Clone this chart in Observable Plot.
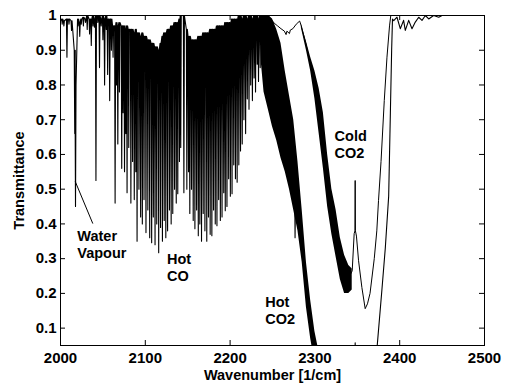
<!DOCTYPE html>
<html>
<head>
<meta charset="utf-8">
<script src="https://cdn.jsdelivr.net/npm/d3@7"></script>
<script src="https://cdn.jsdelivr.net/npm/@observablehq/plot@0.6"></script>
<style>
  html, body { margin: 0; padding: 0; background: #fff; }
</style>
</head>
<body>
<div id="chart"></div>
<script>
// ---- axis ticks ----
const xTicks = [2000, 2100, 2200, 2300, 2400, 2500];
const yTicks = [0.1, 0.2, 0.3, 0.4, 0.5, 0.6, 0.7, 0.8, 0.9, 1];

// ---- hot spectrum: individual absorption lines (centre, minimum, local top) ----
const hotHeadW = [2000];
const hotHeadT = [0.985];
const lineW = [
  2002, 2004, 2007.6, 2010, 2013, 2016.8, 2017.7, 2020.7, 2022.7, 2024.5,
  2027, 2029.5, 2031.5, 2034.3, 2036.3, 2038.3, 2040, 2041.8, 2044, 2046,
  2048, 2050, 2052, 2054, 2055.6, 2058, 2060, 2062, 2064.4, 2066,
  2067.6, 2069.5, 2072.2, 2073.8, 2075.5, 2077, 2078.5, 2080.5, 2083, 2085,
  2087, 2088.8, 2090.3, 2092.5, 2094.5, 2096.5, 2098.5, 2100.8, 2103, 2105.2,
  2107.5, 2109.5, 2111.5, 2113.5, 2115.8, 2118, 2120.2, 2122.3, 2124.2, 2126.3,
  2128.5, 2130.5, 2132.4, 2134.5, 2136.5, 2138.3, 2140.3, 2141.8, 2145.5, 2149,
  2151, 2152.5, 2154.5, 2156.5, 2158.5, 2160.5, 2162.5, 2164.3, 2166.3, 2168.3,
  2170.3, 2172.5, 2174.5, 2176.5, 2178.5, 2180.5, 2182.5, 2184.5, 2186.5, 2188.5,
  2190.5, 2192.5, 2194.3, 2196.3, 2198.3, 2200.3, 2202.3, 2204.3, 2206.3, 2208.3,
  2210.3, 2212.3, 2214.3, 2216.3, 2218.3, 2220.3, 2222.3, 2224.3, 2226.3, 2228.3,
  2230, 2232, 2233.5, 2235.5
];
const lineLo = [
  0.975, 0.97, 0.88, 0.975, 0.957, 0.66, 0.45, 0.97, 0.94, 0.975,
  0.97, 0.98, 0.96, 0.947, 0.914, 0.97, 0.966, 0.525, 0.98, 0.85,
  0.97, 0.93, 0.80, 0.96, 0.83, 0.755, 0.90, 0.88, 0.46, 0.80,
  0.63, 0.78, 0.56, 0.72, 0.55, 0.66, 0.49, 0.62, 0.46, 0.58,
  0.47, 0.55, 0.35, 0.50, 0.42, 0.40, 0.47, 0.375, 0.44, 0.36,
  0.346, 0.42, 0.34, 0.40, 0.317, 0.39, 0.35, 0.41, 0.36, 0.38,
  0.44, 0.40, 0.43, 0.50, 0.46, 0.487, 0.58, 0.62, 0.49, 0.50,
  0.55, 0.43, 0.50, 0.41, 0.386, 0.44, 0.366, 0.40, 0.35, 0.43,
  0.38, 0.35, 0.42, 0.37, 0.366, 0.44, 0.40, 0.395, 0.47, 0.41,
  0.42, 0.49, 0.438, 0.45, 0.53, 0.48, 0.487, 0.57, 0.53, 0.52,
  0.57, 0.61, 0.63, 0.70, 0.66, 0.76, 0.73, 0.80, 0.755, 0.82,
  0.78, 0.86, 0.81, 0.85
];
const lineHi = [
  0.99, 0.985, 0.99, 0.99, 0.985, 0.90, 0.80, 0.99, 0.98, 0.99,
  0.995, 0.99, 1.0, 0.99, 0.99, 1.0, 0.99, 1.0, 1.0, 1.0,
  0.99, 1.0, 0.99, 1.0, 0.99, 0.99, 0.99, 0.97, 0.97, 0.98,
  0.97, 0.98, 0.97, 0.97, 0.97, 0.96, 0.97, 0.96, 0.96, 0.96,
  0.95, 0.96, 0.95, 0.95, 0.94, 0.95, 0.94, 0.94, 0.93, 0.93,
  0.92, 0.92, 0.91, 0.91, 0.90, 0.92, 0.94, 0.95, 0.95, 0.96,
  0.96, 0.97, 0.97, 0.98, 0.98, 0.98, 0.99, 1.0, 1.0, 0.96,
  0.94, 0.94, 0.93, 0.93, 0.93, 0.93, 0.94, 0.94, 0.94, 0.95,
  0.95, 0.95, 0.95, 0.96, 0.96, 0.96, 0.96, 0.97, 0.97, 0.97,
  0.97, 0.97, 0.98, 0.98, 0.98, 0.98, 0.99, 0.99, 0.99, 0.99,
  1.0, 1.0, 0.99, 1.0, 1.0, 0.99, 1.0, 1.0, 0.99, 1.0,
  1.0, 1.0, 0.99, 1.0
];
// hot spectrum after the CO lines (hot CO2 band and beyond)
const hotTailW = [2237, 2250, 2262, 2276.2, 2276.6, 2277, 2285, 2295, 2300,
  2347.2, 2347.5, 2347.8, 2371, 2373.5, 2379, 2383, 2387, 2389, 2390.5, 2391.5,
  2393, 2396.8, 2400.7, 2404.6, 2406.6, 2410.6, 2414.5, 2418.4, 2422.4, 2426.3,
  2430.3, 2434.2, 2440, 2446, 2450, 2500];
const hotTailT = [0.95, 0.85, 0.70, 0.50, 0.36, 0.45, 0.37, 0.10, 0.00,
  0.00, 0.058, 0.00, 0.00, 0.05, 0.21, 0.33, 0.48, 0.72, 0.90, 0.99,
  0.985, 0.995, 0.962, 0.986, 0.957, 0.986, 0.962, 0.981, 0.995, 0.986,
  1.0, 0.99, 1.0, 0.995, 1.0, 1.0];
// dense hot CO2 line band: lower / upper envelopes
const hotBandW  = [2237, 2240, 2245, 2250, 2255, 2260, 2265, 2270, 2275, 2280, 2285, 2290, 2295, 2300, 2305];
const hotBandLo = [0.86, 0.78, 0.73, 0.68, 0.64, 0.59, 0.55, 0.50, 0.44, 0.38, 0.29, 0.16, 0.07, 0.00, 0.00];
const hotBandHi = [1.00, 1.00, 1.00, 0.99, 0.96, 0.92, 0.84, 0.77, 0.70, 0.58, 0.44, 0.29, 0.18, 0.09, 0.03];

// ---- cold CO2 spectrum ----
const coldW = [2000, 2245, 2248, 2252, 2256, 2260, 2264, 2266, 2267, 2270, 2271, 2274, 2278, 2282, 2284,
  2290, 2300, 2310, 2320, 2330, 2340, 2344, 2346.3, 2347.2, 2347.5, 2347.8, 2349, 2351.5, 2355.4,
  2359.3, 2362, 2365, 2370, 2373, 2375, 2378, 2381.8, 2385, 2388, 2389.5, 2500];
const coldT = [1.0, 1.0, 0.99, 0.978, 0.97, 0.962, 0.955, 0.945, 0.955, 0.948, 0.958, 0.962, 0.975, 0.984, 0.97,
  0.912, 0.80, 0.64, 0.435, 0.30, 0.245, 0.265, 0.372, 0.38, 0.525, 0.38, 0.365, 0.294, 0.217,
  0.156, 0.17, 0.20, 0.30, 0.38, 0.467, 0.58, 0.755, 0.88, 0.97, 1.0, 1.0];
const coldBandW  = [2284, 2290, 2295, 2300, 2305, 2310, 2315, 2320, 2325, 2330, 2335, 2340, 2344];
const coldBandLo = [0.965, 0.90, 0.84, 0.76, 0.66, 0.56, 0.45, 0.37, 0.305, 0.24, 0.20, 0.20, 0.21];
const coldBandHi = [0.975, 0.925, 0.88, 0.84, 0.79, 0.72, 0.60, 0.50, 0.44, 0.36, 0.31, 0.28, 0.27];

// ---- annotations ----
const annotText = ["Water\nVapour", "Hot\nCO", "Hot\nCO2", "Cold\nCO2"];
const annotW = [2019.8, 2125.6, 2241.4, 2323.2];
const annotT = [0.341, 0.276, 0.152, 0.629];
const pointerW = [2017.4, 2038.1];
const pointerT = [0.522, 0.401];

// ---- build tables ----
const halfWidth = 0.6;
const hotPts = [];
hotHeadW.forEach((w, i) => hotPts.push({w, t: hotHeadT[i]}));
lineW.forEach((w, i) => {
  hotPts.push({w: w - halfWidth, t: lineHi[i]}, {w, t: lineLo[i]}, {w: w + halfWidth, t: lineHi[i]});
});
hotTailW.forEach((w, i) => hotPts.push({w, t: hotTailT[i]}));
const hotBand = hotBandW.map((w, i) => ({w, lo: hotBandLo[i], hi: hotBandHi[i]}));
const coldPts = coldW.map((w, i) => ({w, t: coldT[i]}));
const coldBand = coldBandW.map((w, i) => ({w, lo: coldBandLo[i], hi: coldBandHi[i]}));
const annots = annotText.map((s, i) => ({s, w: annotW[i], t: annotT[i]}));

const W = 507, H = 385;
const mL = 60, mR = 23, mT = 15, mB = 40;
const xDom = [2000, 2500], yDom = [0.05, 1];
const xPerPx = (xDom[1] - xDom[0]) / (W - mL - mR);
const yPerPx = (yDom[1] - yDom[0]) / (H - mT - mB);
const tick = 5;

const chart = Plot.plot({
  width: W, height: H,
  marginLeft: mL, marginRight: mR, marginTop: mT, marginBottom: mB,
  style: {fontFamily: "'Liberation Sans', Arial, Helvetica, sans-serif", fontSize: "14px", fontWeight: "bold", background: "#fff", color: "#000"},
  x: {domain: xDom},
  y: {domain: yDom},
  marks: [
    Plot.areaY(coldBand, {x: "w", y1: "lo", y2: "hi", fill: "#000", clip: true}),
    Plot.line(coldPts, {x: "w", y: "t", stroke: "#000", strokeWidth: 1, clip: true}),
    Plot.areaY(hotBand, {x: "w", y1: "lo", y2: "hi", fill: "#000", clip: true}),
    Plot.line(hotPts, {x: "w", y: "t", stroke: "#000", strokeWidth: 1.1, clip: true}),
    Plot.link([0], {x1: () => pointerW[0], y1: () => pointerT[0], x2: () => pointerW[1], y2: () => pointerT[1], stroke: "#000", strokeWidth: 1}),
    Plot.text(annots, {x: "w", y: "t", text: "s", textAnchor: "start", lineAnchor: "middle", lineHeight: 1.15, fontSize: 14.5, fill: "#000"}),
    Plot.frame({stroke: "#000", strokeWidth: 1}),
    Plot.ruleX(xTicks, {x: d => d, y1: () => yDom[0], y2: () => yDom[0] + tick * yPerPx, stroke: "#000"}),
    Plot.ruleX(xTicks, {x: d => d, y1: () => yDom[1] - tick * yPerPx, y2: () => yDom[1], stroke: "#000"}),
    Plot.ruleY(yTicks, {y: d => d, x1: () => xDom[0], x2: () => xDom[0] + tick * xPerPx, stroke: "#000"}),
    Plot.ruleY(yTicks, {y: d => d, x1: () => xDom[1] - tick * xPerPx, x2: () => xDom[1], stroke: "#000"}),
    Plot.axisX({ticks: xTicks, tickSize: 0, tickPadding: 7, tickFormat: d => String(d), label: null, fontSize: 15, fill: "#000"}),
    Plot.axisY({ticks: yTicks, tickSize: 0, tickPadding: 4, tickFormat: d => String(d), label: null, fontSize: 15, fill: "#000"}),
    Plot.text(["Wavenumber [1/cm]"], {text: d => d, frameAnchor: "bottom", dy: 30, lineAnchor: "middle", fontSize: 14.5, fill: "#000"}),
    Plot.text(["Transmittance"], {text: d => d, frameAnchor: "left", dx: -41, rotate: -90, textAnchor: "middle", lineAnchor: "middle", fontSize: 14.5, fill: "#000"})
  ]
});
document.getElementById("chart").appendChild(chart);
</script>
</body>
</html>
